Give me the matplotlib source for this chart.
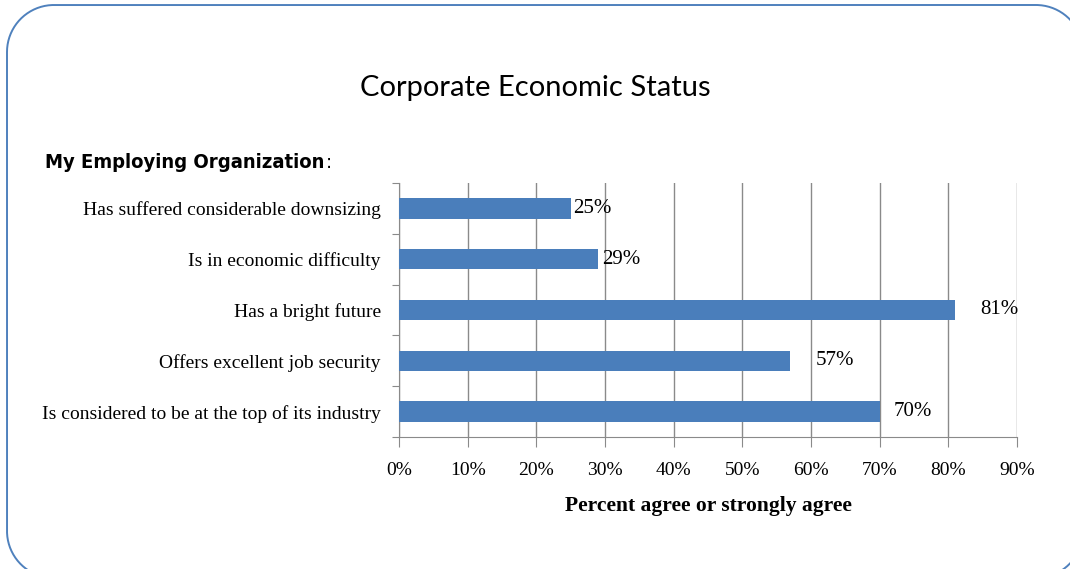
import numpy as np
import matplotlib
matplotlib.use("Agg")
import matplotlib.pyplot as plt
from matplotlib.lines import Line2D
from matplotlib.transforms import Affine2D
from matplotlib.ticker import MultipleLocator, FixedLocator, NullFormatter, PercentFormatter

categories = [
    "Has suffered considerable downsizing",
    "Is in economic difficulty",
    "Has a bright future",
    "Offers excellent job security",
    "Is considered to be at the top of its industry",
]
values = [25, 29, 81, 57, 70]
value_labels = ["25%", "29%", "81%", "57%", "70%"]
label_offsets = [1.5, 3, 18, 18, 10]  # points to the right of each bar end

bar_color = "#4a7ebb"
grid_color = "#8a8a8a"

W, H, DPI = 1070, 569, 100
fig = plt.figure(figsize=(W / DPI, H / DPI), dpi=DPI)
px = Affine2D().scale(1 / DPI) + fig.dpi_scale_trans  # pixel units, origin bottom-left


def rounded_rect(x0, y0, x1, y1, r, n=40):
    """Outline of a rounded rectangle as a closed polyline (pixel units)."""
    xs, ys = [], []
    corners = [(x1 - r, y1 - r, 0), (x0 + r, y1 - r, 90),
               (x0 + r, y0 + r, 180), (x1 - r, y0 + r, 270)]
    for cx, cy, start in corners:
        t = np.radians(np.linspace(start, start + 90, n))
        xs.extend(cx + r * np.cos(t))
        ys.extend(cy + r * np.sin(t))
    xs.append(xs[0])
    ys.append(ys[0])
    return xs, ys


# rounded frame around the slide
fx, fy = rounded_rect(7, H - 578, 1083, H - 5, 47)
fig.add_artist(Line2D(fx, fy, transform=px, color="#4f81bd", linewidth=1.4))

fig.text(535 / W, 1 - 88 / H, "Corporate Economic Status", ha="center", va="center",
         fontsize=21, family="Lato", color="black")
head = fig.text(45 / W, 1 - 163 / H, "My Employing Organization", ha="left",
                va="center", fontsize=14.5, family="DejaVu Sans",
                fontstretch="condensed", fontweight="bold")
colon = fig.text(0, 1 - 163 / H, ":", ha="left", va="center", fontsize=14.5,
                 family="DejaVu Sans", fontstretch="condensed")
fig.canvas.draw()
bb = head.get_window_extent()
colon.set_position(((bb.x1 + 2) / W, 1 - 163 / H))

ax = fig.add_axes([399 / W, 1 - 437 / H, 618 / W, 254 / H])
y = list(range(len(categories)))
ax.barh(y, values, height=0.4, color=bar_color, zorder=3)
ax.set_xlim(0, 90)
ax.set_ylim(len(categories) - 0.5, -0.5)

ax.xaxis.set_major_locator(MultipleLocator(10))
ax.xaxis.set_major_formatter(PercentFormatter(decimals=0))
ax.grid(axis="x", color=grid_color, linewidth=1, zorder=0)
ax.set_axisbelow(True)

ax.yaxis.set_major_locator(FixedLocator([i - 0.5 for i in range(len(categories) + 1)]))
ax.yaxis.set_major_formatter(NullFormatter())
ax.yaxis.set_minor_locator(FixedLocator(y))
ax.set_yticklabels(categories, minor=True)
ax.tick_params(axis="y", which="minor", length=0, pad=13)
ax.tick_params(axis="y", which="major", length=5, color=grid_color, direction="out")
ax.tick_params(axis="x", length=7, color=grid_color, direction="out", pad=11)

for lab in ax.get_yticklabels(minor=True):
    lab.set_family("Liberation Serif")
    lab.set_fontsize(14)
for lab in ax.get_xticklabels():
    lab.set_family("Liberation Serif")
    lab.set_fontsize(14)

for side in ("top", "right"):
    ax.spines[side].set_visible(False)
for side in ("left", "bottom"):
    ax.spines[side].set_color(grid_color)

ax.set_xlabel("Percent agree or strongly agree", family="Liberation Serif",
              fontweight="bold", fontsize=15.5, labelpad=12)

for yi, v, txt, off in zip(y, values, value_labels, label_offsets):
    ax.annotate(txt, (v, yi), xytext=(off, 0), textcoords="offset points",
                ha="left", va="center", family="Liberation Serif", fontsize=15,
                zorder=4)

fig.savefig("out.png", dpi=DPI)
